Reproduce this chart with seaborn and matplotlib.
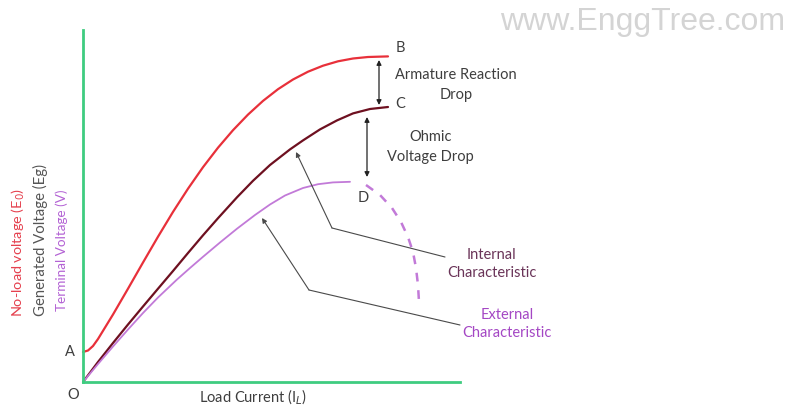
import matplotlib
matplotlib.use("Agg")
import matplotlib.pyplot as plt
import seaborn as sns
import pandas as pd

# Load current and voltage (arbitrary units) for each characteristic
noload_x = [0, 5, 10, 15, 30, 45, 60, 75, 90, 105, 120, 135, 150, 165, 180, 195,
            210, 225, 240, 255, 270, 285, 305]
noload_y = [30, 31.5, 36, 43, 67.5, 93.3, 119.5, 145.3, 170.1, 193.3, 214.8, 234.3,
            251.8, 267.4, 281.1, 292.8, 302.5, 310.3, 316.3, 320.7, 323.5, 325, 325.6]

internal_x = [0, 15, 30, 45, 60, 75, 90, 105, 120, 135, 154, 170, 187, 207, 220,
              237, 254, 270, 287, 305]
internal_y = [0, 20, 39, 57.5, 75.5, 93.3, 111, 129, 146.7, 163.8, 184.7, 201.2,
              217, 232.6, 241.6, 252.6, 261.6, 268.6, 273, 275]

external_x = [0, 15, 30, 45, 60, 75, 94, 107, 120, 137, 154, 172, 187, 202, 220,
              235, 250, 267]
external_y = [0, 18, 35.5, 52.5, 69, 84.5, 102.5, 114, 125.2, 139.5, 153.3, 167,
              177.5, 186.5, 194, 197.8, 199.6, 200.2]

collapse_x = [283, 297, 309, 318, 325, 330, 333, 335, 336]
collapse_y = [197, 187, 174, 160, 145, 130, 114, 97, 80]

RED = "#e8303a"
MAROON = "#6e1020"
VIOLET = "#c27ad8"
GREEN = "#3fcc80"
TEXT = "#3e3e3e"

sns.set_theme(style="white")
plt.rcParams["font.family"] = ["Lato", "DejaVu Sans"]

fig = plt.figure(figsize=(7.87, 4.08), dpi=100)
ax = fig.add_axes([83 / 787, 26 / 408, 377 / 787, 352 / 408])
ax.set_xlim(0, 377)
ax.set_ylim(0, 352)

curves = [
    (noload_x, noload_y, RED, 1.6),
    (internal_x, internal_y, MAROON, 1.6),
    (external_x, external_y, VIOLET, 1.3),
]
for xs, ys, col, lw in curves:
    df = pd.DataFrame({"I": xs, "V": ys})
    sns.lineplot(data=df, x="I", y="V", ax=ax, color=col, linewidth=lw,
                 sort=False, estimator=None, clip_on=False)

df_c = pd.DataFrame({"I": collapse_x, "V": collapse_y})
sns.lineplot(data=df_c, x="I", y="V", ax=ax, color=VIOLET, linewidth=1.8,
             sort=False, estimator=None, clip_on=False)
ax.lines[-1].set_linestyle((0, (3.5, 3.5)))

# axes: only left and bottom, in green
for side in ["top", "right"]:
    ax.spines[side].set_visible(False)
for side in ["left", "bottom"]:
    ax.spines[side].set_color(GREEN)
    ax.spines[side].set_linewidth(2)
ax.set_xticks([])
ax.set_yticks([])
ax.set_xlabel("")
ax.set_ylabel("")

fs = 10.5
# point labels
for lab, x, y in [("B", 317, 334), ("C", 317, 278), ("D", 280, 184),
                  ("A", -13, 30), ("O", -10, -13)]:
    ax.text(x, y, lab, ha="center", va="center", fontsize=fs, color=TEXT, clip_on=False)

# voltage-drop arrows
arrow = dict(arrowstyle="<|-|>", color="#222222", lw=0.9, mutation_scale=7,
             shrinkA=0, shrinkB=0)
ax.annotate("", xy=(296, 277), xytext=(296, 322), arrowprops=arrow, annotation_clip=False)
ax.annotate("", xy=(284, 205), xytext=(284, 265), arrowprops=arrow, annotation_clip=False)

ax.text(373, 307, "Armature Reaction", ha="center", va="center", fontsize=fs, color=TEXT, clip_on=False)
ax.text(373, 287, "Drop", ha="center", va="center", fontsize=fs, color=TEXT, clip_on=False)
ax.text(348, 245, "Ohmic", ha="center", va="center", fontsize=fs, color=TEXT, clip_on=False)
ax.text(347, 225, "Voltage Drop", ha="center", va="center", fontsize=fs, color=TEXT, clip_on=False)

# leader lines to the characteristic names
head = dict(arrowstyle="-|>", color="#4a4a4a", lw=0.8, mutation_scale=7,
            shrinkA=0, shrinkB=0)
ax.plot([249, 362], [154, 125], color="#4a4a4a", lw=0.8, clip_on=False)
ax.annotate("", xy=(213, 230), xytext=(249, 154), arrowprops=head, annotation_clip=False)
ax.plot([226, 377], [92, 57], color="#4a4a4a", lw=0.8, clip_on=False)
ax.annotate("", xy=(179, 164), xytext=(226, 92), arrowprops=head, annotation_clip=False)

ax.text(408, 127, "Internal", ha="center", va="center", fontsize=fs, color="#6a3458", clip_on=False)
ax.text(409, 109, "Characteristic", ha="center", va="center", fontsize=fs, color="#6a3458", clip_on=False)
ax.text(424, 67, "External", ha="center", va="center", fontsize=fs, color="#a447c4", clip_on=False)
ax.text(424, 49, "Characteristic", ha="center", va="center", fontsize=fs, color="#a447c4", clip_on=False)

ax.text(170, -15, "Load Current (I$_L$)", ha="center", va="center", fontsize=fs, color=TEXT, clip_on=False)

# vertical axis titles
ax.text(-65, 130, "No-load voltage (E$_0$)", rotation=90, ha="center", va="center",
        fontsize=10.4, color="#e5404e", clip_on=False)
ax.text(-43, 142, "Generated Voltage (Eg)", rotation=90, ha="center", va="center",
        fontsize=10.7, color="#555555", clip_on=False)
ax.text(-21, 132, "Terminal Voltage (V)", rotation=90, ha="center", va="center",
        fontsize=9.7, color="#b362d4", clip_on=False)

fig.text(785 / 787, 1 - 22 / 408, "www.EnggTree.com", ha="right", va="center",
         fontsize=23, color="#d4d4d4", family="Liberation Sans")

fig.savefig("out.png", dpi=100, facecolor="white")
